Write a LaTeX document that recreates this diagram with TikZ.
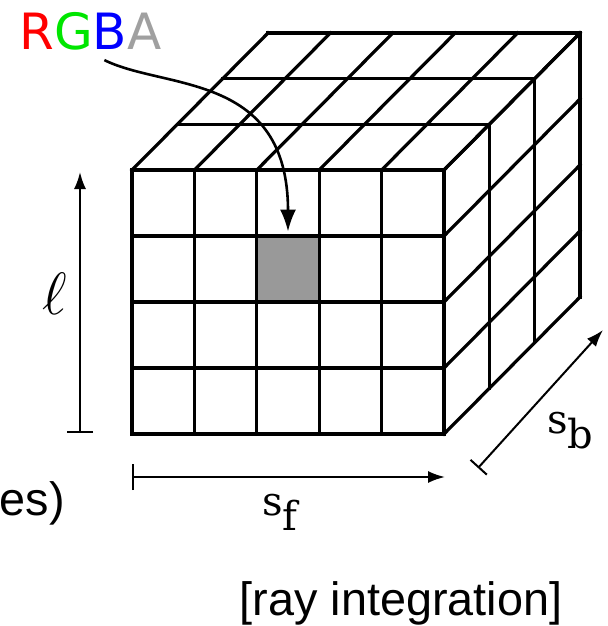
\documentclass[tikz,border=0pt]{standalone}
\usepackage{fontspec}
\usetikzlibrary{arrows.meta}
\newfontfamily\rgbafont{DejaVu Sans}
\newfontfamily\dimfont{DejaVu Serif}
\newfontfamily\capfont{Liberation Sans}
\definecolor{ChanR}{HTML}{FF0000}
\definecolor{ChanG}{HTML}{00E600}
\definecolor{ChanB}{HTML}{0000FF}
\definecolor{ChanA}{HTML}{A0A0A0}
\definecolor{CellGray}{HTML}{999999}

\begin{document}
\begin{tikzpicture}[x=0.5pt,y=-0.5pt,>=Latex,
    grid/.style={line width=1.6pt,line cap=rect},
    dim/.style={line width=1pt},
    dimlabel/.style={font=\dimfont\fontsize{20}{24}\selectfont,anchor=base west,inner sep=0pt}]
  \useasboundingbox (0,0) rectangle (607,626);
  \def\cw{62.4}
  \def\ch{66}
  \def\dx{45.33}
  \def\dy{45.67}

  % the one highlighted voxel
  \node[fill=CellGray,minimum width=31.2pt,minimum height=33pt,inner sep=0pt] (hit) at (288,269) {};

  % front face
  \foreach \i in {0,...,5} \draw[grid] ({132+\i*\cw},170) -- ++(0,264);
  \foreach \j in {0,...,4} \draw[grid] (132,{170+\j*\ch}) -- ++(312,0);
  % top face
  \foreach \i in {0,...,5} \draw[grid] ({132+\i*\cw},170) -- ++({3*\dx},{-3*\dy});
  \foreach \k in {1,2,3} \draw[grid] ({132+\k*\dx},{170-\k*\dy}) -- ++(312,0);
  % right face
  \foreach \j in {0,...,4} \draw[grid] (444,{170+\j*\ch}) -- ++({3*\dx},{-3*\dy});
  \foreach \k in {1,2,3} \draw[grid] ({444+\k*\dx},{170-\k*\dy}) -- ++(0,264);

  \node[anchor=base west,inner sep=0pt,font=\rgbafont\fontsize{25}{30}\selectfont] (rgba) at (19,50)
    {\textcolor{ChanR}{R}\textcolor{ChanG}{G}\textcolor{ChanB}{B}\textcolor{ChanA}{A}};
  \draw[line width=1.3pt,-{Latex[length=11pt,width=8pt]}] ([shift={(7pt,-4.5pt)}]rgba.south)
    .. controls (165,90) and (288,72) .. ([yshift=2pt]hit.north);

  % extents
  \coordinate (lfoot) at (80,433);
  \coordinate (ltop) at (80,172);
  \draw[dim,{Bar[width=13pt]}-{Latex[length=8.5pt,width=6pt]}] (lfoot) -- (ltop);
  \node[font=\fontsize{25}{30}\selectfont] (ell) at (55,294) {\scalebox{1.2}{$\ell$}};

  \coordinate (ffoot) at (132,477);
  \coordinate (fhead) at (445,477);
  \draw[dim,{Bar[width=13pt]}-{Latex[length=8.5pt,width=6pt]}] (ffoot) -- (fhead);
  \node[dimlabel] (sf) at (262,515) {s\raisebox{-7.5pt}{f}};

  \coordinate (bfoot) at (478,468);
  \coordinate (bhead) at (603,330);
  \draw[dim,{Bar[width=11pt]}-{Latex[length=8.5pt,width=6pt]}] (bfoot) -- (bhead);
  \node[dimlabel] (sb) at (547,433) {s\raisebox{-7.5pt}{b}};

  \node[anchor=base east,inner sep=0pt,font=\capfont\fontsize{23.4}{28}\selectfont] (nodes) at (65,515) {es)};
  \node[anchor=base,inner sep=0pt,font=\capfont\fontsize{23.4}{28}\selectfont] (ray) at (401,615) {[ray integration]};
\end{tikzpicture}
\end{document}
